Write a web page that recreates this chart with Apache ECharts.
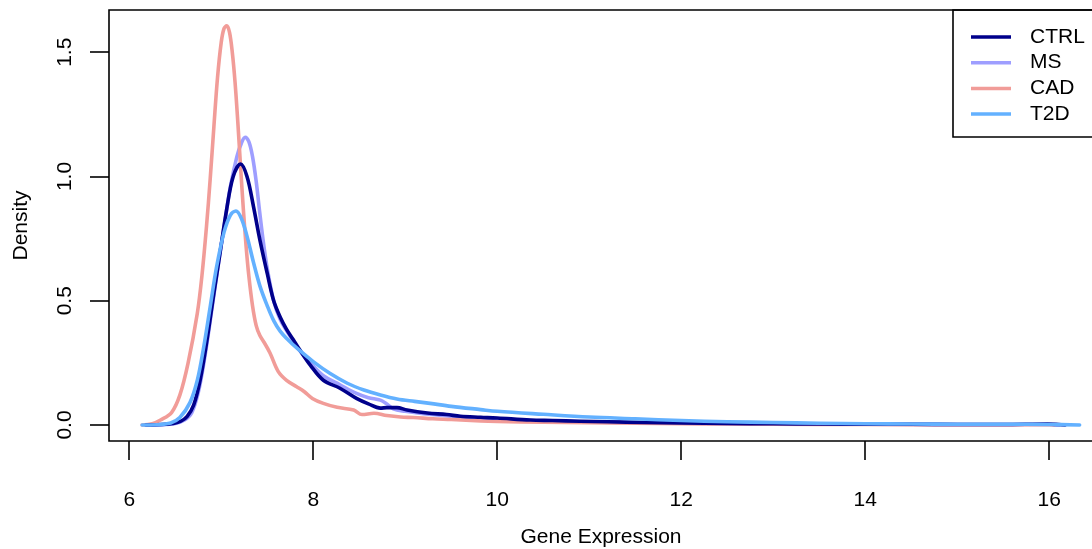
<!DOCTYPE html>
<html>
<head>
<meta charset="utf-8">
<script src="https://cdn.jsdelivr.net/npm/echarts@6/dist/echarts.min.js"></script>
<style>html,body{margin:0;padding:0;background:#fff}#chart{width:1092px;height:549px}</style>
</head>
<body>
<div id="chart"></div>
<script>
// ---- data ----
const seriesNames = ['CTRL', 'MS', 'CAD', 'T2D'];
const xTicks = [6, 8, 10, 12, 14, 16];
const yTicks = [0, 0.5, 1, 1.5];

const ctrlX = [6.18, 6.3, 6.4, 6.48, 6.56, 6.63, 6.70, 6.77, 6.84, 6.92, 6.99, 7.06, 7.13, 7.21, 7.28, 7.35, 7.42, 7.50, 7.57, 7.64, 7.71, 7.78, 7.84, 7.97, 8.11, 8.29, 8.47, 8.6, 8.73, 8.8, 8.91, 9.02, 9.24, 9.45, 9.6, 9.82, 10.0, 10.36, 10.6, 10.9, 11.2, 11.6, 12.0, 12.5, 13, 13.5, 14, 14.5, 15, 15.5, 15.98, 16.1, 16.17];
const ctrlY = [0, 0.001, 0.003, 0.006, 0.015, 0.035, 0.08, 0.18, 0.33, 0.53, 0.70, 0.87, 1.0, 1.05, 1.0, 0.88, 0.745, 0.61, 0.50, 0.435, 0.385, 0.345, 0.31, 0.24, 0.18, 0.148, 0.107, 0.085, 0.068, 0.07, 0.07, 0.06, 0.048, 0.042, 0.035, 0.031, 0.028, 0.02, 0.018, 0.015, 0.013, 0.01, 0.008, 0.006, 0.005, 0.004, 0.003, 0.003, 0.002, 0.002, 0.004, 0.002, 0];

const msX = [6.2, 6.4, 6.5, 6.6, 6.68, 6.75, 6.82, 6.9, 6.97, 7.04, 7.1, 7.17, 7.22, 7.26, 7.30, 7.34, 7.38, 7.42, 7.46, 7.5, 7.57, 7.64, 7.71, 7.78, 7.84, 7.97, 8.11, 8.29, 8.47, 8.6, 8.73, 8.8, 8.87, 9.0, 9.2, 9.5, 9.8, 10, 10.5, 11, 11.5, 12, 12.5, 13, 14, 15, 16, 16.1];
const msY = [0, 0.002, 0.006, 0.02, 0.05, 0.13, 0.27, 0.47, 0.65, 0.82, 0.96, 1.08, 1.135, 1.158, 1.14, 1.08, 0.98, 0.85, 0.73, 0.63, 0.50, 0.425, 0.38, 0.34, 0.305, 0.25, 0.198, 0.162, 0.127, 0.11, 0.1, 0.085, 0.065, 0.055, 0.045, 0.035, 0.027, 0.022, 0.016, 0.012, 0.009, 0.007, 0.005, 0.004, 0.003, 0.002, 0.002, 0];

const cadX = [6.14, 6.25, 6.34, 6.46, 6.55, 6.64, 6.74, 6.79, 6.84, 6.88, 6.92, 6.96, 7.0, 7.03, 7.06, 7.09, 7.12, 7.15, 7.18, 7.21, 7.24, 7.27, 7.30, 7.34, 7.38, 7.42, 7.47, 7.53, 7.62, 7.71, 7.82, 7.9, 7.99, 8.11, 8.26, 8.44, 8.53, 8.66, 8.80, 8.95, 9.09, 9.3, 9.5, 9.82, 10.0, 10.5, 11, 11.5, 12, 12.5, 13, 14, 15, 16, 16.05];
const cadY = [0, 0.005, 0.02, 0.05, 0.12, 0.25, 0.45, 0.6, 0.8, 0.99, 1.2, 1.4, 1.54, 1.595, 1.606, 1.58, 1.50, 1.38, 1.22, 1.04, 0.87, 0.72, 0.60, 0.48, 0.40, 0.36, 0.33, 0.29, 0.215, 0.18, 0.154, 0.135, 0.107, 0.087, 0.071, 0.06, 0.042, 0.047, 0.038, 0.032, 0.03, 0.025, 0.022, 0.016, 0.014, 0.011, 0.009, 0.007, 0.005, 0.004, 0.003, 0.002, 0.001, 0.001, 0];

const t2dX = [6.14, 6.3, 6.45, 6.55, 6.66, 6.74, 6.81, 6.88, 6.95, 7.03, 7.10, 7.16, 7.22, 7.28, 7.35, 7.42, 7.50, 7.57, 7.64, 7.72, 7.82, 8.0, 8.18, 8.37, 8.55, 8.73, 8.91, 9.1, 9.27, 9.5, 9.82, 10.0, 10.5, 11, 11.5, 12, 12.5, 13, 13.5, 14, 14.5, 15, 15.5, 16, 16.33];
const t2dY = [0, 0.001, 0.008, 0.03, 0.09, 0.18, 0.315, 0.476, 0.637, 0.775, 0.845, 0.861, 0.83, 0.76, 0.655, 0.56, 0.48, 0.42, 0.378, 0.345, 0.31, 0.255, 0.208, 0.168, 0.141, 0.121, 0.105, 0.095, 0.087, 0.075, 0.062, 0.055, 0.043, 0.032, 0.025, 0.018, 0.013, 0.01, 0.007, 0.005, 0.004, 0.003, 0.003, 0.002, 0];

const colors = { CTRL: '#00008B', MS: '#9E9EFF', CAD: '#F19C98', T2D: '#63B1FF' };

// ---- build ----
const FONT = 'Liberation Sans, Arial, Helvetica, sans-serif';
const pairs = (xs, ys) => xs.map((x, i) => [x, ys[i]]);
const dataMap = {
  CTRL: pairs(ctrlX, ctrlY),
  MS: pairs(msX, msY),
  CAD: pairs(cadX, cadY),
  T2D: pairs(t2dX, t2dY)
};
const drawOrder = ['MS', 'CAD', 'CTRL', 'T2D'];

const chart = echarts.init(document.getElementById('chart'), null, { renderer: 'canvas' });
chart.setOption({
  animation: false,
  backgroundColor: '#fff',
  textStyle: { fontFamily: FONT },
  grid: {
    left: 109, top: 10, width: 984, height: 431,
    containLabel: false, outerBoundsMode: 'none',
    show: true, borderColor: '#000', borderWidth: 1.6, backgroundColor: 'transparent'
  },
  xAxis: {
    type: 'value', min: 5.78, max: 5.78 + 984 / 92,
    name: 'Gene Expression', nameLocation: 'middle', nameGap: 86,
    nameTextStyle: { fontSize: 21, color: '#000', fontFamily: FONT },
    splitLine: { show: false },
    axisLine: { show: false, onZero: false },
    axisTick: { show: true, customValues: xTicks, length: 19, lineStyle: { color: '#000', width: 1.6 } },
    axisLabel: { customValues: xTicks, margin: 49, fontSize: 21, color: '#000', fontFamily: FONT,
      formatter: v => String(v) }
  },
  yAxis: {
    type: 'value', min: -0.0644, max: 1.670,
    name: 'Density', nameLocation: 'middle', nameGap: 77, nameRotate: 90,
    nameTextStyle: { fontSize: 21, color: '#000', fontFamily: FONT },
    splitLine: { show: false },
    axisLine: { show: false, onZero: false },
    axisTick: { show: true, customValues: yTicks, length: 19, lineStyle: { color: '#000', width: 1.6 } },
    axisLabel: { customValues: yTicks, margin: 33, rotate: 90, align: 'center', verticalAlign: 'bottom',
      fontSize: 21, color: '#000', fontFamily: FONT, formatter: v => v.toFixed(1) }
  },
  legend: {
    orient: 'vertical', left: 971, top: 26.5, padding: 0,
    itemWidth: 40, itemHeight: 3.5, itemGap: 4.7, icon: 'rect',
    data: seriesNames,
    textStyle: { fontSize: 21, lineHeight: 21, color: '#000', fontFamily: FONT, padding: [0, 0, 0, 14] }
  },
  graphic: [{
    type: 'rect', z: 100,
    shape: { x: 953, y: 10, width: 160, height: 127 },
    style: { fill: 'none', stroke: '#000', lineWidth: 1.6 }
  }],
  series: drawOrder.map(name => ({
    name, type: 'line', data: dataMap[name],
    color: colors[name],
    showSymbol: false, symbol: 'none',
    smooth: 0.35,
    lineStyle: { width: 3.6, color: colors[name], cap: 'round', join: 'round' },
    clip: false
  }))
});
</script>
</body>
</html>
